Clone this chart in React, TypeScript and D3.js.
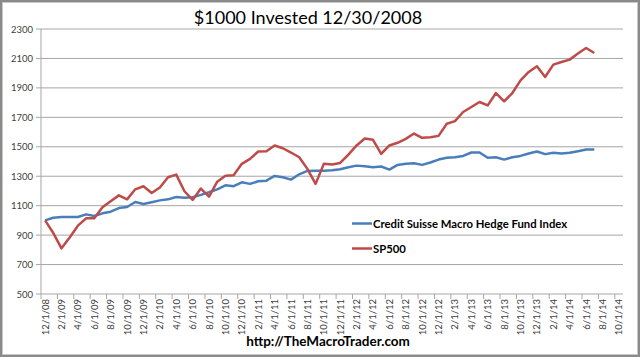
import React from "react";
import * as d3 from "d3";

const title = "$1000 Invested 12/30/2008";
const footer = "http://TheMacroTrader.com";
const seriesNames = ["Credit Suisse Macro Hedge Fund Index", "SP500"];

// 71 monthly categories from 12/1/08 to 10/1/14; labels on every second month
const tickLabels = [
  "12/1/08", "2/1/09", "4/1/09", "6/1/09", "8/1/09", "10/1/09",
  "12/1/09", "2/1/10", "4/1/10", "6/1/10", "8/1/10", "10/1/10",
  "12/1/10", "2/1/11", "4/1/11", "6/1/11", "8/1/11", "10/1/11",
  "12/1/11", "2/1/12", "4/1/12", "6/1/12", "8/1/12", "10/1/12",
  "12/1/12", "2/1/13", "4/1/13", "6/1/13", "8/1/13", "10/1/13",
  "12/1/13", "2/1/14", "4/1/14", "6/1/14", "8/1/14", "10/1/14",
];
const categoryCount = 71;

const yTicks = [500, 700, 900, 1100, 1300, 1500, 1700, 1900, 2100, 2300];

// Dec 2008 .. Jul 2014
const hedge = [
  1000, 1018, 1023, 1023, 1023, 1041, 1030, 1048, 1059, 1084,
  1091, 1125, 1111, 1123, 1136, 1143, 1159, 1154, 1157, 1173,
  1191, 1211, 1238, 1232, 1259, 1248, 1266, 1270, 1302, 1293,
  1277, 1313, 1336, 1338, 1338, 1340, 1347, 1361, 1372, 1368,
  1361, 1366, 1345, 1377, 1384, 1388, 1377, 1393, 1413, 1425,
  1429, 1438, 1461, 1461, 1425, 1429, 1413, 1429, 1438, 1454,
  1468, 1450, 1459, 1454, 1459, 1470, 1481, 1481,
];
const sp500 = [
  1000, 914, 810, 884, 964, 1014, 1014, 1089, 1130, 1170,
  1143, 1211, 1232, 1186, 1223, 1293, 1311, 1198, 1139, 1216,
  1161, 1263, 1304, 1307, 1384, 1418, 1468, 1470, 1509, 1490,
  1461, 1429, 1350, 1248, 1384, 1379, 1390, 1447, 1509, 1556,
  1547, 1452, 1509, 1527, 1554, 1590, 1561, 1565, 1574, 1656,
  1674, 1736, 1770, 1804, 1781, 1865, 1809, 1865, 1951, 2008,
  2047, 1974, 2058, 2076, 2092, 2133, 2171, 2137,
];

const W = 640;
const H = 357;
const left = 41;
const right = 623;
const top = 29;
const bottom = 294;
const font = "Lato, 'Open Sans', sans-serif";
const colors = ["#4a7ebb", "#be4b48"];

export default function App() {
  const x = d3.scaleLinear().domain([0, categoryCount]).range([left, right]);
  const y = d3.scaleLinear().domain([500, 2300]).range([bottom, top]);
  const cx = (i: number) => x(i + 0.5);
  const line = d3
    .line<number>()
    .x((_, i) => cx(i))
    .y((d) => y(d));

  const tickXs = d3.range(0, categoryCount + 1, 2).map((k) => x(k));

  return (
    <div style={{ position: "absolute", left: 0, top: 0 }}>
      <svg width={W} height={H} style={{ display: "block" }}>
        <rect x={0} y={0} width={W} height={H} fill="#8a8a8a" />
        <rect x={2} y={2} width={W - 4} height={H - 4} fill="#c8c8c8" />
        <rect x={3} y={3} width={W - 6} height={H - 6} fill="#ffffff" />

        <text
          x={308}
          y={24}
          textAnchor="middle"
          fontFamily={font}
          fontSize={18}
          fill="#000"
        >
          {title}
        </text>

        {yTicks.map((t) => (
          <g key={t}>
            {t > 500 && (
              <line x1={left} x2={right} y1={y(t)} y2={y(t)} stroke="#a6a6a6" strokeWidth={1} />
            )}
            <line x1={left - 5} x2={left} y1={y(t)} y2={y(t)} stroke="#a6a6a6" />
            <text
              x={33}
              y={y(t) + 3.5}
              textAnchor="end"
              fontFamily={font}
              fontSize={9.5}
              fill="#404040"
            >
              {t}
            </text>
          </g>
        ))}

        <line x1={left} x2={left} y1={top} y2={bottom} stroke="#a6a6a6" />
        <line x1={left} x2={right} y1={bottom} y2={bottom} stroke="#a6a6a6" />
        {tickXs.map((tx, k) => (
          <line key={k} x1={tx} x2={tx} y1={bottom} y2={bottom + 5} stroke="#a6a6a6" />
        ))}
        {tickLabels.map((lab, k) => (
          <text
            key={lab}
            transform={`translate(${cx(2 * k) + 3.5},${bottom + 5}) rotate(-90)`}
            textAnchor="end"
            fontFamily={font}
            fontSize={9.5}
            fill="#404040"
          >
            {lab}
          </text>
        ))}

        {[hedge, sp500].map((s, k) => (
          <path
            key={k}
            d={line(s) || ""}
            fill="none"
            stroke={colors[k]}
            strokeWidth={2.5}
            strokeLinejoin="round"
          />
        ))}

        {seriesNames.map((name, k) => (
          <g key={name}>
            <line
              x1={352}
              x2={372}
              y1={223.5 + k * 25}
              y2={223.5 + k * 25}
              stroke={colors[k]}
              strokeWidth={2.5}
            />
            <text
              x={373}
              y={227.5 + k * 25}
              fontFamily={font}
              fontWeight="bold"
              fontSize={11.3}
              fill="#000"
            >
              {name}
            </text>
          </g>
        ))}

        <text
          x={328}
          y={346}
          textAnchor="middle"
          fontFamily={font}
          fontWeight="bold"
          fontSize={13.5}
          fill="#000"
        >
          {footer}
        </text>
      </svg>
    </div>
  );
}
